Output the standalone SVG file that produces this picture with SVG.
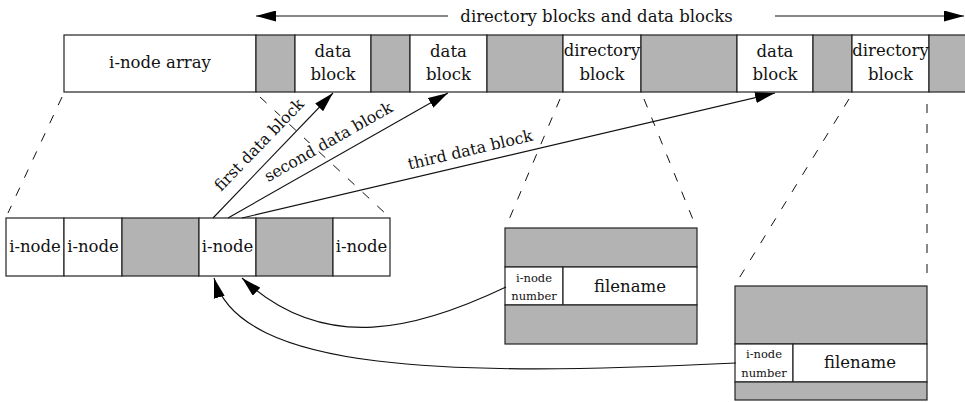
<svg xmlns="http://www.w3.org/2000/svg" width="965" height="402" viewBox="0 0 965 402">
<style>
.w{fill:#ffffff;stroke:#222;stroke-width:1.2}
.g{fill:#b3b3b3;stroke:#222;stroke-width:1.2}
text{font-family:"DejaVu Serif","Liberation Serif",serif;fill:#111}
.t{font-size:16.5px;text-anchor:middle}
.s{font-size:11.5px;text-anchor:middle}
.lab{font-size:15.8px;text-anchor:middle;stroke:#fff;stroke-width:4;paint-order:stroke;stroke-linejoin:round}
.d{stroke:#111;stroke-width:1;stroke-dasharray:9 11;fill:none}
.c{stroke:#111;stroke-width:1.1;fill:none}
</style>
<defs>
<marker id="ah" viewBox="0 0 20 11" refX="20" refY="5.5" markerWidth="20" markerHeight="11" markerUnits="userSpaceOnUse" orient="auto">
<path d="M0,0 L20,5.5 L0,11 z" fill="#000"/>
</marker>
</defs>
<g id="dashes">
<line class="d" x1="62" y1="97" x2="8" y2="213"/>
<line class="d" x1="260" y1="97" x2="386" y2="214"/>
<line class="d" x1="560" y1="99" x2="508" y2="222"/>
<line class="d" x1="644" y1="99" x2="694" y2="222"/>
<line class="d" x1="849" y1="99" x2="738" y2="280"/>
<line class="d" x1="927" y1="104" x2="927" y2="282"/>
</g>
<g id="top-bar">
<rect class="w" x="64" y="35" width="192" height="57"/>
<rect class="g" x="256" y="35" width="39" height="57"/>
<rect class="w" x="295" y="35" width="76" height="57"/>
<rect class="g" x="371" y="35" width="39" height="57"/>
<rect class="w" x="410" y="35" width="77" height="57"/>
<rect class="g" x="487" y="35" width="76" height="57"/>
<rect class="w" x="563" y="35" width="78" height="57"/>
<rect class="g" x="641" y="35" width="96" height="57"/>
<rect class="w" x="737" y="35" width="76" height="57"/>
<rect class="g" x="813" y="35" width="39" height="57"/>
<rect class="w" x="852" y="35" width="77" height="57"/>
<rect class="g" x="929" y="35" width="40" height="57"/>
<text class="t" x="160" y="68">i-node array</text>
<text class="t" x="333" y="57">data</text><text class="t" x="333" y="80">block</text>
<text class="t" x="448.5" y="57">data</text><text class="t" x="448.5" y="80">block</text>
<text class="t" x="602" y="56">directory</text><text class="t" x="602" y="80">block</text>
<text class="t" x="775" y="57">data</text><text class="t" x="775" y="80">block</text>
<text class="t" x="890.5" y="56">directory</text><text class="t" x="890.5" y="80">block</text>
</g>
<g id="header">
<text class="t" x="596.5" y="22">directory blocks and data blocks</text>
</g>
<g id="inode-row">
<rect class="w" x="6" y="218" width="58" height="58"/>
<rect class="w" x="64" y="218" width="58" height="58"/>
<rect class="g" x="122" y="218" width="77" height="58"/>
<rect class="w" x="199" y="218" width="57" height="58"/>
<rect class="g" x="256" y="218" width="77" height="58"/>
<rect class="w" x="333" y="218" width="57" height="58"/>
<text class="t" x="35" y="252">i-node</text>
<text class="t" x="93" y="252">i-node</text>
<text class="t" x="227.5" y="252">i-node</text>
<text class="t" x="361.5" y="252">i-node</text>
</g>
<g id="dir-entry-1">
<rect class="g" x="505" y="228" width="192" height="39"/>
<rect class="w" x="505" y="267" width="58" height="38"/>
<rect class="w" x="563" y="267" width="134" height="38"/>
<rect class="g" x="505" y="305" width="192" height="39"/>
<text class="s" x="534" y="282">i-node</text>
<text class="s" x="534" y="300">number</text>
<text class="t" x="630" y="292">filename</text>
</g>
<g id="dir-entry-2">
<rect class="g" x="735" y="286" width="192" height="58"/>
<rect class="w" x="735" y="344" width="58" height="38"/>
<rect class="w" x="793" y="344" width="134" height="38"/>
<rect class="g" x="735" y="382" width="192" height="18"/>
<text class="s" x="764" y="358">i-node</text>
<text class="s" x="764" y="377">number</text>
<text class="t" x="860" y="368">filename</text>
</g>
<g id="connectors">
<line class="c" x1="448" y1="16" x2="256" y2="16" marker-end="url(#ah)"/>
<line class="c" x1="775" y1="16" x2="964" y2="16" marker-end="url(#ah)"/>
<line class="c" x1="213" y1="218" x2="333" y2="93" marker-end="url(#ah)"/>
<line class="c" x1="228" y1="218" x2="448" y2="93" marker-end="url(#ah)"/>
<line class="c" x1="242" y1="218" x2="775" y2="93" marker-end="url(#ah)"/>
<path class="c" d="M506,287 C420,328 325,356 242,278" marker-end="url(#ah)"/>
<path class="c" d="M736,363 C450,377 240,372 214,278" marker-end="url(#ah)"/>
<text class="lab" transform="translate(263,148.5) rotate(-46)">first data block</text>
<text class="lab" transform="translate(331,146.5) rotate(-29.6)">second data block</text>
<text class="lab" transform="translate(471.5,155) rotate(-13.2)">third data block</text>
</g>
</svg>
